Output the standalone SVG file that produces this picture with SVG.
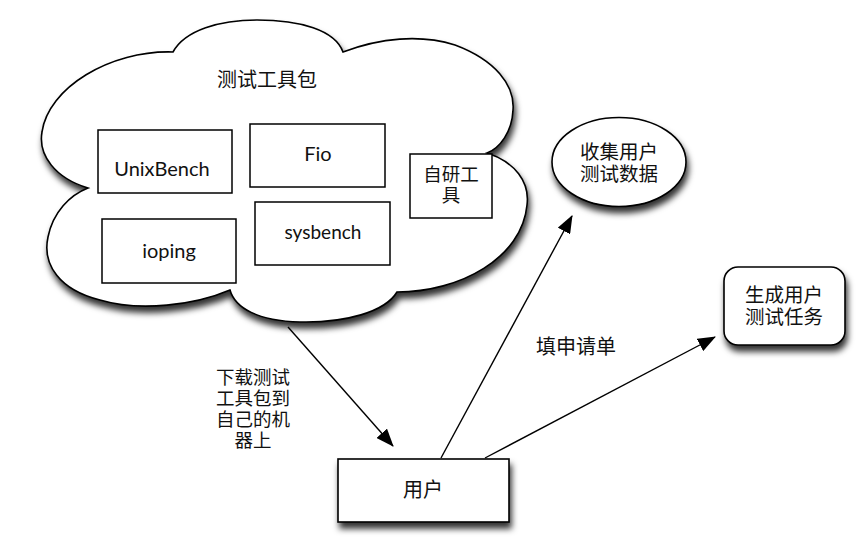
<svg xmlns="http://www.w3.org/2000/svg" width="865" height="548" viewBox="0 0 865 548">
  <defs>
    <filter id="shadow" x="-20%" y="-20%" width="140%" height="150%">
      <feDropShadow dx="2" dy="6" stdDeviation="3.2" flood-color="#000" flood-opacity="0.8"/>
    </filter>
    <marker id="arrow" markerWidth="18" markerHeight="14" refX="17" refY="7" orient="auto" markerUnits="userSpaceOnUse">
      <path d="M0,0 L18,7 L0,14 Z" fill="#000"/>
    </marker>
    <style>
      .shape { fill: #fff; stroke: #000; stroke-width: 1.6; }
      .box { fill: #fff; stroke: #000; stroke-width: 1.5; }
      .cjk { font-family: "Noto Sans CJK SC", "Noto Sans", sans-serif; font-size: 20px; fill: #111; text-anchor: middle; }
      .ml { font-family: "Liberation Sans", "Noto Sans CJK SC", sans-serif; font-size: 19.5px; }
      .lat { font-family: "Lato", "Liberation Sans", sans-serif; font-size: 20px; fill: #111; text-anchor: middle; }
      .conn { fill: none; stroke: #000; stroke-width: 1.4; marker-end: url(#arrow); }
    </style>
  </defs>
  <rect width="865" height="548" fill="#fff"/>

  <g id="cloud">
    <path class="shape" filter="url(#shadow)" d="M 88,188 C 55,178 38,155 42,132 C 48,88 110,50 173,52 C 185,30 220,20 257,20 C 300,20 335,30 343,52 C 380,38 420,34 455,45 C 495,60 515,85 513,110 C 512,132 500,148 487,153 C 515,162 530,182 527,205 C 522,258 460,292 397,292 C 385,312 345,323 300,322 C 258,321 235,308 230,290 C 195,305 140,312 100,300 C 60,290 42,265 48,237 C 53,212 70,195 88,188 Z"/>
    <text class="cjk" x="267" y="87">测试工具包</text>
  </g>

  <g id="unixbench">
    <rect class="box" x="98" y="130" width="134" height="63"/>
    <text class="lat" x="162" y="176">UnixBench</text>
  </g>
  <g id="fio">
    <rect class="box" x="250" y="124" width="135" height="63"/>
    <text class="lat" x="318" y="161">Fio</text>
  </g>
  <g id="selfdev">
    <rect class="box" x="410" y="154" width="82" height="64"/>
    <text class="cjk ml" style="font-size:18.5px"><tspan x="451" y="181">自研工</tspan><tspan x="451" y="202">具</tspan></text>
  </g>
  <g id="ioping">
    <rect class="box" x="102" y="219" width="134" height="64"/>
    <text class="lat" x="169" y="258">ioping</text>
  </g>
  <g id="sysbench">
    <rect class="box" x="255" y="202" width="135" height="63"/>
    <text class="lat" x="323" y="239" style="font-size:19px">sysbench</text>
  </g>

  <g id="collect">
    <ellipse class="shape" filter="url(#shadow)" cx="619" cy="162" rx="67" ry="44.5"/>
    <text class="cjk ml"><tspan x="619" y="159">收集用户</tspan><tspan x="619" y="181">测试数据</tspan></text>
  </g>

  <g id="generate">
    <rect class="shape" filter="url(#shadow)" x="724" y="267" width="121" height="78" rx="14" ry="14"/>
    <text class="cjk ml"><tspan x="784" y="302">生成用户</tspan><tspan x="784" y="324">测试任务</tspan></text>
  </g>

  <g id="user">
    <rect class="shape" filter="url(#shadow)" x="338" y="459" width="171" height="63"/>
    <text class="cjk" x="423" y="497">用户</text>
  </g>

  <g id="connectors">
    <line class="conn" x1="288" y1="327" x2="393" y2="446"/>
    <line class="conn" x1="441" y1="458" x2="572" y2="216"/>
    <line class="conn" x1="485" y1="458" x2="715" y2="337"/>
    <text class="cjk" x="576" y="354">填申请单</text>
    <text class="cjk ml" style="font-size:18.5px"><tspan x="253" y="383.5">下载测试</tspan><tspan x="253" y="404.5">工具包到</tspan><tspan x="253" y="425.5">自己的机</tspan><tspan x="253" y="446.5">器上</tspan></text>
  </g>
</svg>
